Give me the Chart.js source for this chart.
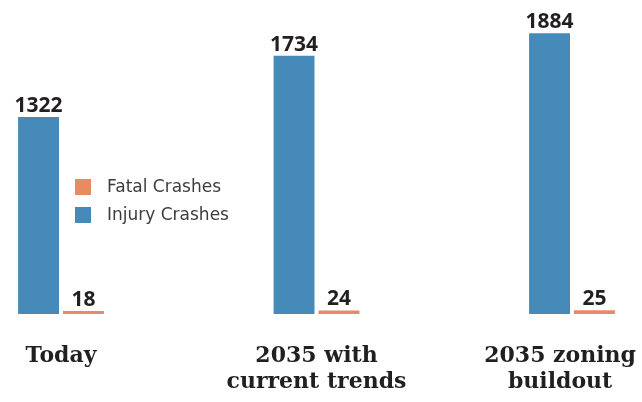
<!DOCTYPE html>
<html>
<head>
<meta charset="utf-8">
<script src="https://cdn.jsdelivr.net/npm/chart.js@4/dist/chart.umd.min.js"></script>
<style>
  html, body { margin: 0; padding: 0; background: #ffffff; }
  #wrap { width: 642px; height: 402px; }
</style>
</head>
<body>
<div id="wrap"><canvas id="c" width="642" height="402"></canvas></div>
<script>
const categories = [["Today"], ["2035 with", "current trends"], ["2035 zoning", "buildout"]];
const injuryCrashes = [1322, 1734, 1884];
const fatalCrashes = [18, 24, 25];
const seriesNames = ["Injury Crashes", "Fatal Crashes"];

const BLUE = "#468aba";
const ORANGE = "#e88a62";
const DARK = "#231f20";

const valueLabels = {
  id: "valueLabels",
  afterDatasetsDraw(chart) {
    const ctx = chart.ctx;
    ctx.save();
    ctx.font = "bold 21px 'Open Sans'";
    ctx.fillStyle = DARK;
    ctx.textAlign = "center";
    ctx.textBaseline = "alphabetic";
    chart.data.datasets.forEach((ds, di) => {
      const meta = chart.getDatasetMeta(di);
      meta.data.forEach((el, i) => {
        ctx.fillText(String(ds.data[i]), el.x, el.y - 5);
      });
    });
    ctx.restore();
  }
};

const categoryLabels = {
  id: "categoryLabels",
  afterDraw(chart) {
    const ctx = chart.ctx;
    const xs = chart.scales.x;
    ctx.save();
    ctx.font = "bold 22px 'DejaVu Serif'";
    ctx.fillStyle = DARK;
    ctx.textAlign = "center";
    ctx.textBaseline = "alphabetic";
    const W = chart.width;
    categories.forEach((lines, i) => {
      let cx = xs.getPixelForTick(i);
      const maxW = Math.max(...lines.map(l => ctx.measureText(l).width));
      if (cx + maxW / 2 > W - 6) cx = W - 6 - maxW / 2;
      if (cx - maxW / 2 < 6) cx = 6 + maxW / 2;
      lines.forEach((l, j) => ctx.fillText(l, cx, 362 + j * 26));
    });
    ctx.restore();
  }
};

const customLegend = {
  id: "customLegend",
  afterDraw(chart) {
    const ctx = chart.ctx;
    ctx.save();
    ctx.font = "17px 'DejaVu Sans'";
    ctx.textBaseline = "middle";
    ctx.textAlign = "left";
    const items = chart.data.datasets.slice().reverse();
    items.forEach((ds, k) => {
      const y = 179 + k * 28;
      ctx.fillStyle = ds.backgroundColor;
      ctx.fillRect(75, y, 16, 16);
      ctx.fillStyle = "#3d3d3d";
      ctx.fillText(ds.label, 107, y + 8.5);
    });
    ctx.restore();
  }
};

new Chart(document.getElementById("c"), {
  type: "bar",
  data: {
    labels: categories,
    datasets: [
      { label: seriesNames[0], data: injuryCrashes, backgroundColor: BLUE, clip: false },
      { label: seriesNames[1], data: fatalCrashes, backgroundColor: ORANGE, clip: false, minBarLength: 3 }
    ]
  },
  options: {
    responsive: false,
    animation: false,
    devicePixelRatio: 1,
    layout: { padding: { top: 16, bottom: 88, left: 61, right: 70 } },
    categoryPercentage: 90 / 256,
    barPercentage: 41 / 45,
    plugins: { legend: { display: false }, tooltip: { enabled: false } },
    scales: {
      x: { display: false, offset: false, grid: { display: false } },
      y: { display: false, min: 0, max: 2000, grid: { display: false } }
    }
  },
  plugins: [valueLabels, categoryLabels, customLegend]
});
</script>
</body>
</html>
